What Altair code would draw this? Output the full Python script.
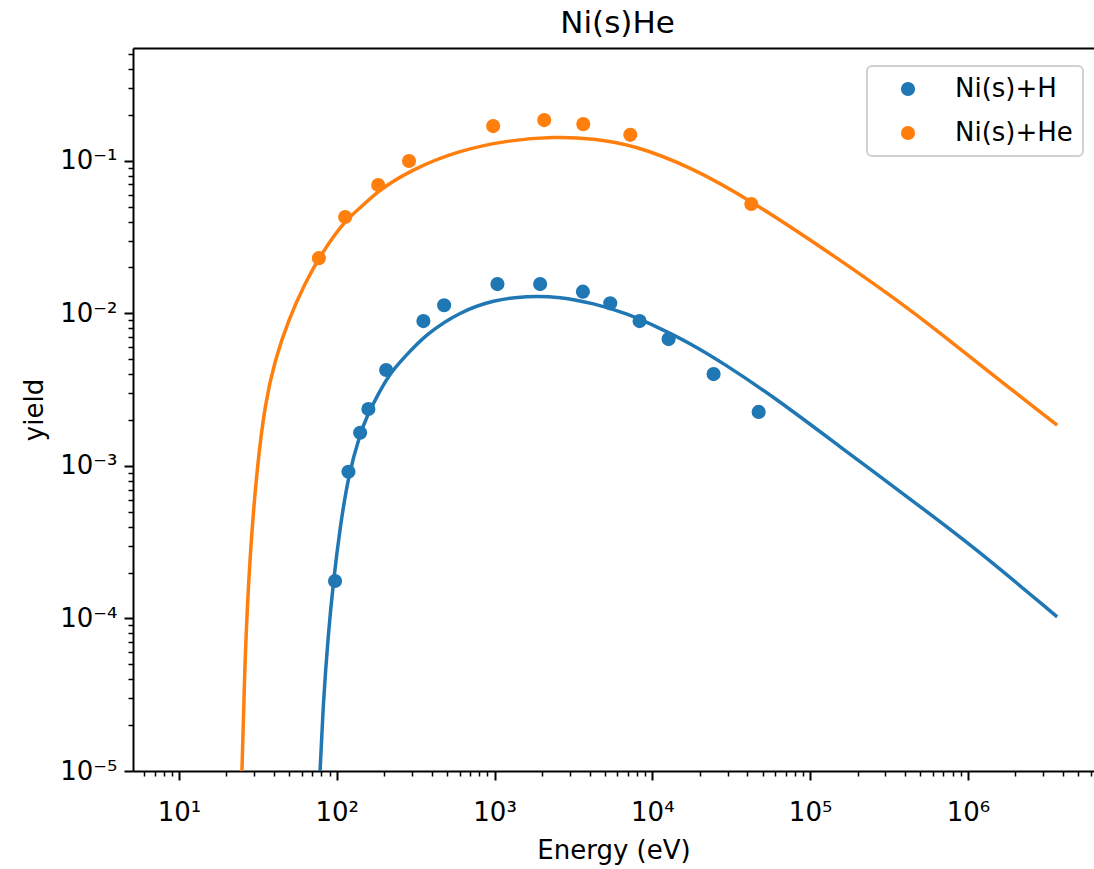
import altair as alt
import pandas as pd

# ---- data ----
series = ["Ni(s)+H", "Ni(s)+He"]
colors = ["#1f77b4", "#ff7f0e"]

# measured points
h_energy = [97.5, 118.6, 140.6, 158.6, 205.6, 354, 479, 1043, 1945, 3630, 5410, 8300, 12680, 24450, 47200]
h_yield = [1.76e-4, 9.14e-4, 1.65e-3, 2.36e-3, 4.25e-3, 8.9e-3, 0.0113, 0.01556, 0.01556, 0.01387,
           0.01164, 8.9e-3, 6.78e-3, 4.0e-3, 2.26e-3]
he_energy = [77, 113, 183, 287, 980, 2065, 3650, 7250, 42400]
he_yield = [0.023, 0.0428, 0.0693, 0.0997, 0.169, 0.185, 0.174, 0.148, 0.0521]

# fitted curves
h_fit_energy = [78.0, 82.2, 88.4, 95.1, 105, 118.5, 140.6, 155, 179, 218, 264, 372, 605, 984, 1603,
                2606, 4239, 6902, 11220, 17390, 28300, 58700, 155000, 412000, 1.09e6, 3.68e6]
h_fit_yield = [9.0e-6, 2.91e-5, 7.98e-5, 1.74e-4, 3.99e-4, 8.7e-4, 1.63e-3, 2.1e-3, 2.84e-3, 4.06e-3,
               5.07e-3, 7.39e-3, 0.01024, 0.01222, 0.01304, 0.01285, 0.01163, 0.0100, 7.97e-3,
               6.36e-3, 4.70e-3, 2.84e-3, 1.334e-3, 6.27e-4, 2.95e-4, 1.024e-4]
he_fit_energy = [25.0, 26.2, 28.2, 31.1, 35.1, 40.6, 49.3, 63.0, 77.6, 112.9, 140.6, 179.3, 291.6, 605,
                 1256, 2363, 4239, 7601, 17390, 41800, 155000, 356000, 669000, 1.09e6, 3.68e6]
he_fit_yield = [9.0e-6, 5.92e-5, 2.68e-4, 9.38e-4, 2.58e-3, 4.94e-3, 9.03e-3, 0.0158, 0.0235, 0.0409,
                0.0488, 0.0627, 0.0870, 0.1177, 0.1369, 0.1439, 0.1405, 0.1269, 0.0915, 0.0553,
                0.0224, 0.0122, 7.43e-3, 4.94e-3, 1.85e-3]

x_domain = [5.11, 6.3e6]
y_domain = [1e-5, 0.549]
x_major = [10, 100, 1000, 1e4, 1e5, 1e6]
y_major = [1e-5, 1e-4, 1e-3, 1e-2, 1e-1]
x_minor = [m * 10.0 ** k for k in range(0, 7) for m in range(2, 10)]
x_minor = [v for v in x_minor if x_domain[0] <= v <= x_domain[1]]
y_minor = [m * 10.0 ** k for k in range(-5, 0) for m in range(2, 10)]
y_minor = [v for v in y_minor if y_domain[0] <= v <= y_domain[1]]

fit_h_df = pd.DataFrame({"energy": h_fit_energy, "yield": h_fit_yield})
fit_he_df = pd.DataFrame({"energy": he_fit_energy, "yield": he_fit_yield})
pts_df = pd.concat([
    pd.DataFrame({"energy": h_energy, "yield": h_yield, "series": series[0]}),
    pd.DataFrame({"energy": he_energy, "yield": he_yield, "series": series[1]}),
])

font = "DejaVu Sans"
FS = 26

xs = alt.Scale(type="log", domain=x_domain, nice=False)
ys = alt.Scale(type="log", domain=y_domain, nice=False)

lab_x = "'10' + ['\u2070','\u00b9','\u00b2','\u00b3','\u2074','\u2075','\u2076','\u2077'][round(log(datum.value)/LN10)]"
lab_y = "'10\u207b' + ['\u2070','\u00b9','\u00b2','\u00b3','\u2074','\u2075','\u2076'][round(-log(datum.value)/LN10)]"

common = dict(grid=False, tickColor="black", labelFont=font, labelFontSize=FS, labelColor="black",
              titleFont=font, titleFontSize=FS, titleFontWeight="normal", titleColor="black")

x_major_axis = alt.Axis(orient="bottom", values=x_major, labelExpr=lab_x, title="Energy (eV)",
                        tickSize=9, tickWidth=2, domain=True, domainColor="black", domainWidth=2,
                        labelPadding=19, labelFlush=False, labelOverlap=False, titlePadding=12, **common)
y_major_axis = alt.Axis(orient="left", values=y_major, labelExpr=lab_y, title="yield",
                        tickSize=9, tickWidth=2, domain=True, domainColor="black", domainWidth=2,
                        labelPadding=7, labelFlush=False, labelOverlap=False, titlePadding=12, **common)
x_minor_axis = alt.Axis(orient="bottom", values=x_minor, labels=False, title=None, tickSize=5,
                        tickWidth=1.5, domain=False, **common)
y_minor_axis = alt.Axis(orient="left", values=y_minor, labels=False, title=None, tickSize=5,
                        tickWidth=1.5, domain=False, **common)
x_top_axis = alt.Axis(orient="top", labels=False, ticks=False, title=None, domain=True,
                      domainColor="black", domainWidth=2, grid=False)

line_h = alt.Chart(fit_h_df).mark_line(strokeWidth=3.5, clip=True, interpolate="basis",
                                       color=colors[0]).encode(
    x=alt.X("energy:Q", scale=xs, axis=x_major_axis),
    y=alt.Y("yield:Q", scale=ys, axis=y_major_axis),
)
line_he = alt.Chart(fit_he_df).mark_line(strokeWidth=3.5, clip=True, interpolate="basis",
                                         color=colors[1]).encode(
    x=alt.X("energy:Q", scale=xs, axis=None),
    y=alt.Y("yield:Q", scale=ys, axis=None),
)

points = alt.Chart(pts_df).mark_circle(size=200, opacity=1).encode(
    x=alt.X("energy:Q", scale=xs, axis=x_minor_axis),
    y=alt.Y("yield:Q", scale=ys, axis=y_minor_axis),
    color=alt.Color("series:N", scale=alt.Scale(domain=series, range=colors),
                    legend=alt.Legend(title=None, orient="none", legendX=734, legendY=18)),
)

top = alt.Chart(pts_df).mark_circle(opacity=0).encode(
    x=alt.X("energy:Q", scale=xs, axis=x_top_axis),
    y=alt.Y("yield:Q", scale=ys, axis=None),
)

chart = alt.layer(line_h, line_he, points, top).resolve_axis(x="independent", y="independent").properties(
    width=961, height=723,
    title=alt.TitleParams("Ni(s)He", font=font, fontSize=31, fontWeight="normal", color="black",
                          anchor="middle", offset=8, dx=4),
    padding={"left": 133, "top": 48, "right": 0, "bottom": 98},
    autosize=alt.AutoSizeParams(type="none"),
).configure_view(stroke=None).configure(background="white").configure_legend(
    padding=10, symbolType="circle", symbolSize=200, symbolOffset=18, symbolStrokeWidth=0,
    labelOffset=34, labelFont=font, labelFontSize=FS, labelColor="black", rowPadding=18,
    strokeColor="#d0d0d0", fillColor="white", strokeWidth=2, cornerRadius=5)

chart.save("out.html", embed_options={"renderer": "svg", "actions": False})
